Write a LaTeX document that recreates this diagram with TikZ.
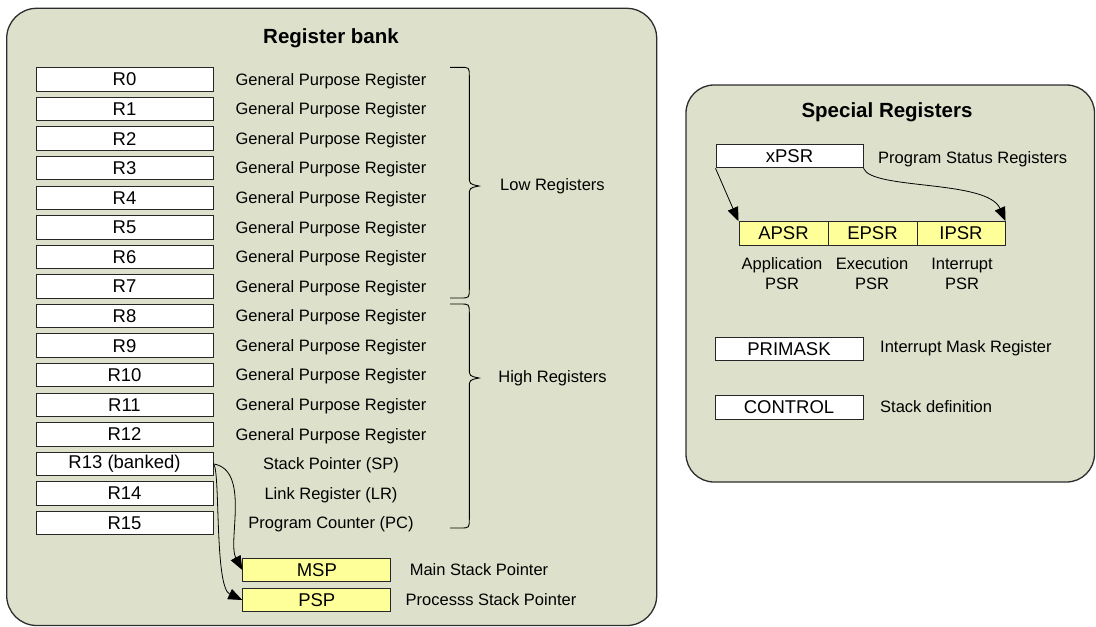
\documentclass[tikz,border=0pt]{standalone}
\usepackage{fontspec}
\setmainfont{Liberation Sans}
\usetikzlibrary{arrows.meta}
\definecolor{panelbg}{RGB}{221,225,203}
\definecolor{regyellow}{RGB}{255,255,153}
\definecolor{panelline}{RGB}{45,45,45}
\begin{document}
\begin{tikzpicture}[x=1pt,y=-1pt,
  panel/.style={draw=panelline,line width=1.3pt,fill=panelbg,rounded corners=30pt},
  regbox/.style={draw=black!85,line width=1pt,fill=white,minimum width=177pt,minimum height=23.5pt,inner sep=0pt,font=\fontsize{18.5}{20}\selectfont},
  spbox/.style={regbox,minimum width=147pt},
  ybox/.style={regbox,fill=regyellow,minimum width=89pt},
  desc/.style={inner sep=0pt,font=\fontsize{16.5}{20}\selectfont},
  title/.style={inner sep=0pt,font=\fontsize{20.5}{24}\selectfont\bfseries},
  conn/.style={draw=black,line width=0.8pt,-{Triangle[length=14pt,width=11pt]}},
  bracel/.style={draw=black,line width=0.9pt}
]
\useasboundingbox (0,0) rectangle (1096,627);
% panels
\draw[panel] (6.7,8.3) rectangle (656.7,625.5);
\draw[panel,rounded corners=28pt] (686,85) rectangle (1094.5,482);
% titles
\node[title] (t1) at (331,38) {Register bank};
\node[title] (t2) at (887,112) {Special Registers};
% register bank
\foreach \i/\t in {0/R0,1/R1,2/R2,3/R3,4/R4,5/R5,6/R6,7/R7,8/R8,9/R9,10/R10,11/R11,12/R12,13/R13 (banked),14/R14,15/R15}{
  \node[regbox] (r\i) at (124.5,{79.5+29.57*\i}) {\t};
}
\foreach \i/\t in {0/General Purpose Register,1/General Purpose Register,2/General Purpose Register,3/General Purpose Register,4/General Purpose Register,5/General Purpose Register,6/General Purpose Register,7/General Purpose Register,8/General Purpose Register,9/General Purpose Register,10/General Purpose Register,11/General Purpose Register,12/General Purpose Register,13/Stack Pointer (SP),14/Link Register (LR),15/Program Counter (PC)}{
  \node[desc] (d\i) at (331,{81+29.57*\i}) {\t};
}
% braces
\draw[bracel] (450,67.3) -- (460,67.3) .. controls (469.3,67.3) .. (469.3,76) -- (469.3,176)
  .. controls (469.3,184) .. (479,186) .. controls (469.3,188) .. (469.3,196) -- (469.3,289)
  .. controls (469.3,298) .. (460,298) -- (450,298);
\draw[bracel] (450,304) -- (460,304) .. controls (469.3,304) .. (469.3,313) -- (469.3,368)
  .. controls (469.3,376) .. (479,378) .. controls (469.3,380) .. (469.3,388) -- (469.3,519)
  .. controls (469.3,528) .. (460,528) -- (450,528);
\node[desc] (low) at (552.5,186) {Low Registers};
\node[desc] (high) at (552.5,378) {High Registers};
% MSP / PSP
\node[regbox,fill=regyellow,minimum width=148pt] (msp) at (316.8,570) {MSP};
\node[regbox,fill=regyellow,minimum width=148pt] (psp) at (316.8,600) {PSP};
\node[desc] (mspd) at (479,570) {Main Stack Pointer};
\node[desc] (pspd) at (491,600) {Processs Stack Pointer};
\draw[conn] (r13.east) .. controls +(37,6) and +(-15,-28) .. (msp.west);
\draw[conn] (r13.east) .. controls +(7,6) and +(-28,-13) .. (psp.west);
% special registers
\node[spbox] (xpsr) at (789.5,156) {xPSR};
\node[desc,anchor=west] (xpsrd) at (878,159) {Program Status Registers};
\node[ybox] (apsr) at (783.5,233.5) {APSR};
\node[ybox] (epsr) at (872.5,233.5) {EPSR};
\node[ybox,minimum width=88pt] (ipsr) at (961,233.5) {IPSR};
\node[desc,align=center] (apsrd) at (782,274) {Application\\PSR};
\node[desc,align=center] (epsrd) at (872,274) {Execution\\PSR};
\node[desc,align=center] (ipsrd) at (962,274) {Interrupt\\PSR};
\draw[conn] (xpsr.south west) -- (apsr.north west);
\draw[conn] (xpsr.south east) .. controls +(8,22) and +(-18,-42) .. (ipsr.north east);
\node[spbox,minimum width=148pt] (primask) at (789,349) {PRIMASK};
\node[desc,anchor=west] (primaskd) at (880,348) {Interrupt Mask Register};
\node[spbox,minimum width=148pt] (control) at (789,407.5) {CONTROL};
\node[desc,anchor=west] (controld) at (880,407) {Stack definition};
\end{tikzpicture}
\end{document}
